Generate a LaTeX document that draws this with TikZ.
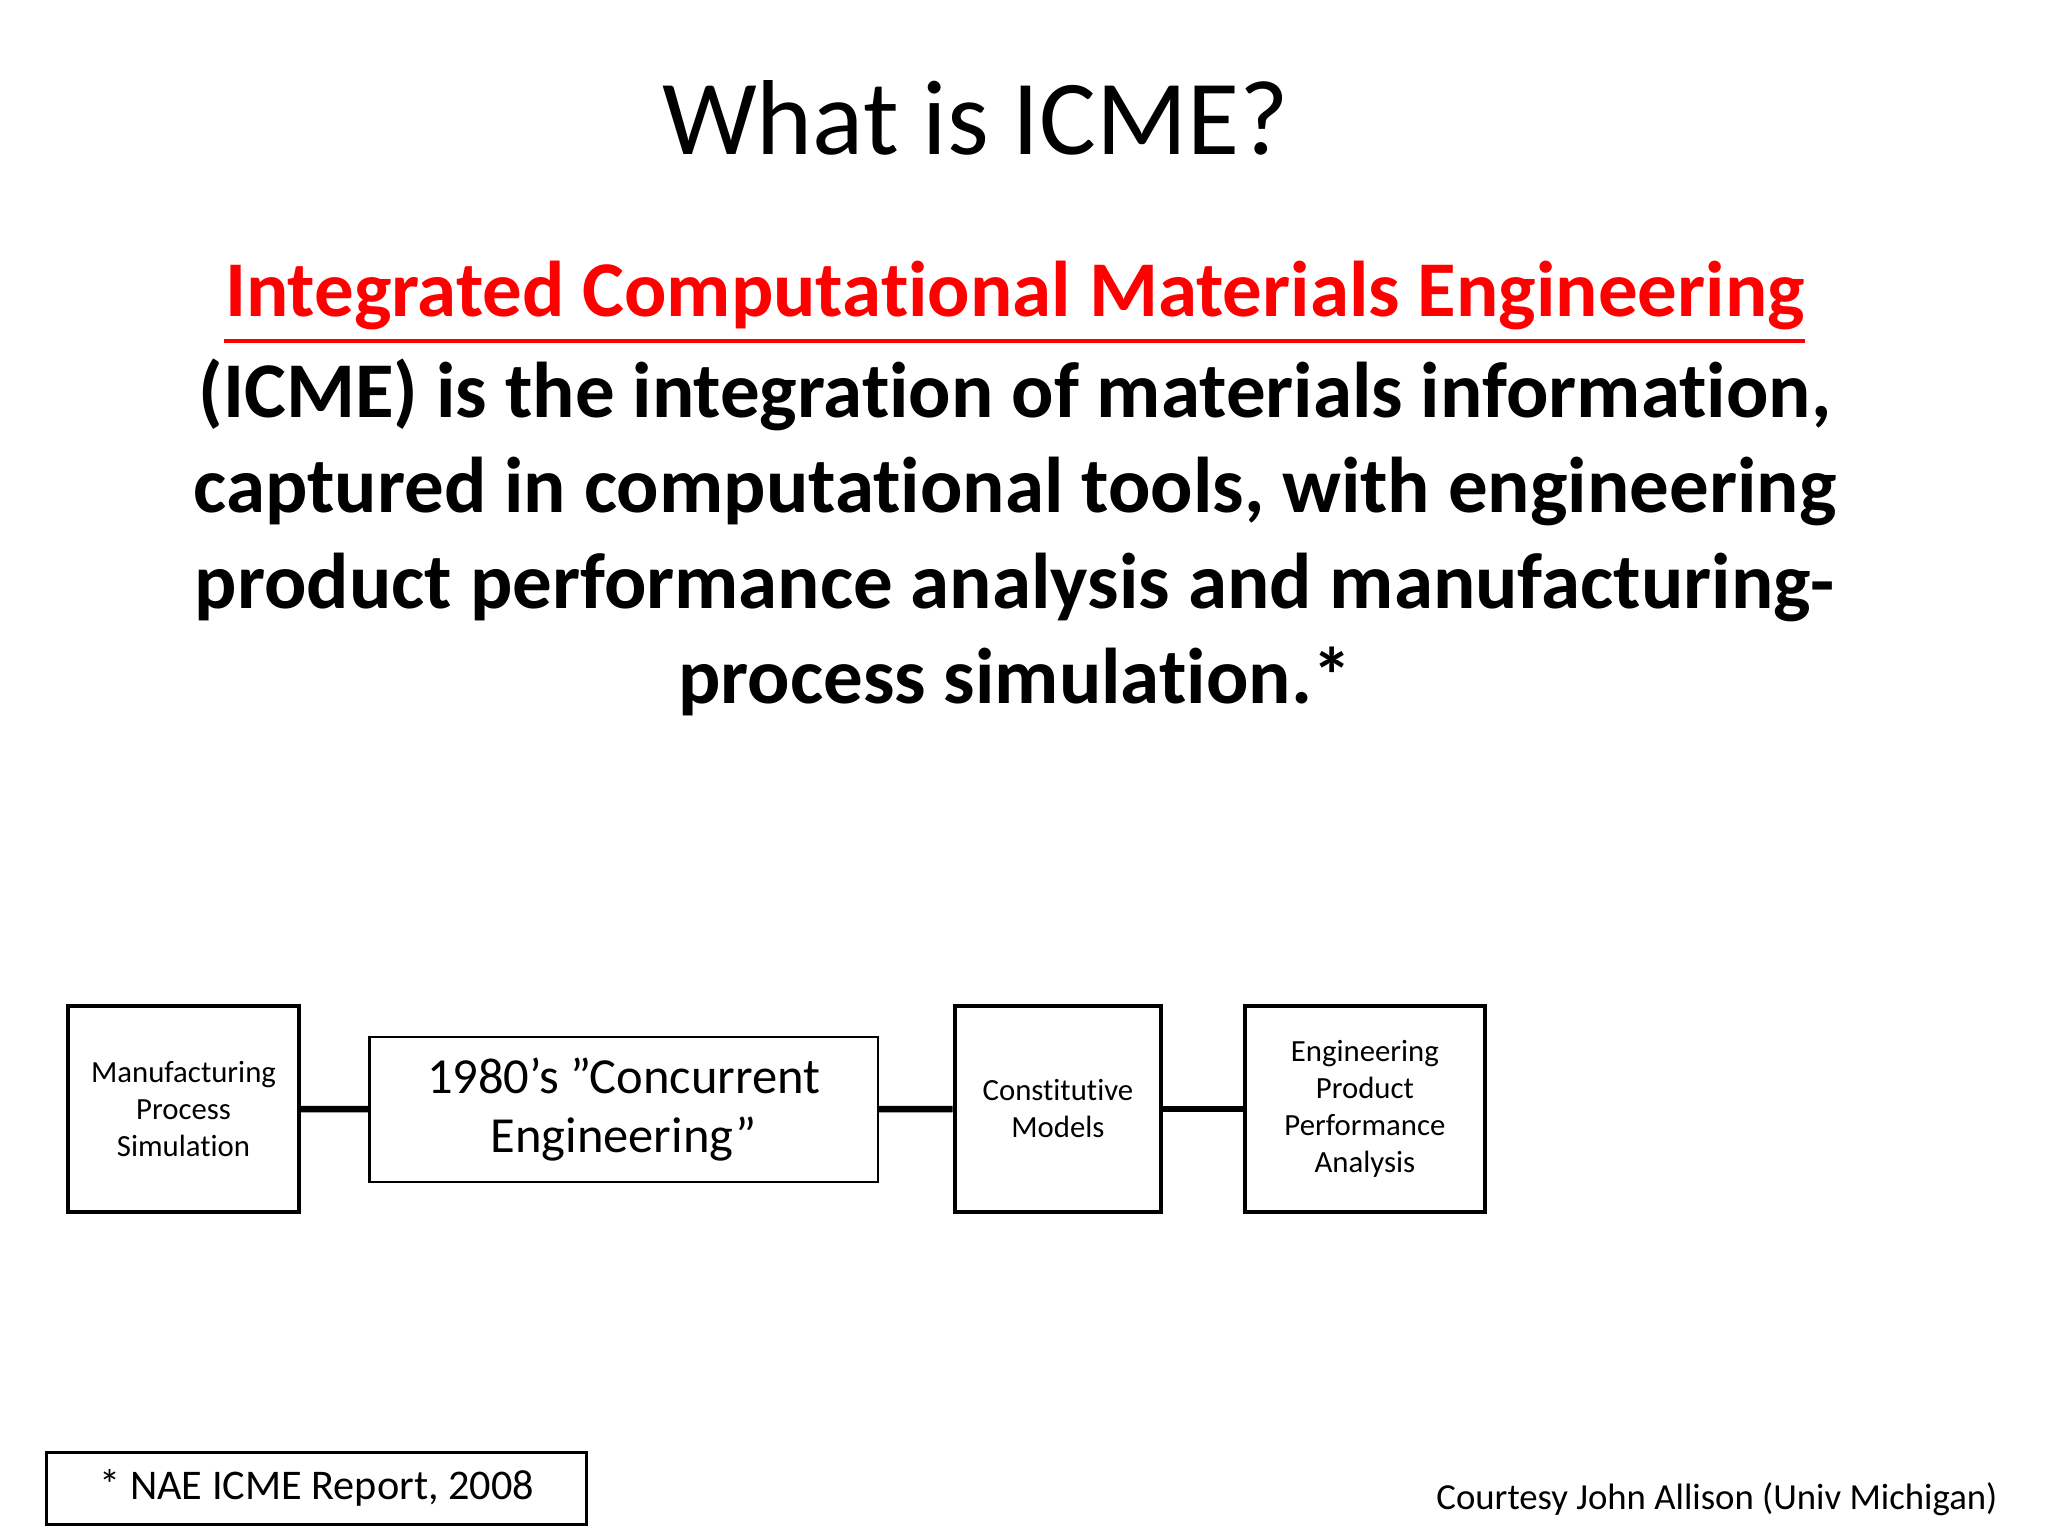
\documentclass[tikz,border=0pt]{standalone}
\usepackage{fontspec}
\setmainfont{Carlito}[Ligatures=NoCommon]
\definecolor{icmered}{RGB}{255,0,0}
\begin{document}
\begin{tikzpicture}[x=0.01cm,y=-0.01cm,
  thickbox/.style={draw,line width=0.9pt,align=center,inner sep=0pt,font=\fontsize{6.7pt}{8pt}\selectfont},
  conn/.style={line width=1.4pt}]
\useasboundingbox (0,0) rectangle (1568,1176);
\node[font=\fontsize{23.2pt}{28pt}\selectfont] (title) at (747,90) {What is ICME?};
\node[font=\fontsize{17.2pt}{20.8pt}\selectfont\bfseries,text=icmered,inner sep=0pt] (head) at (777,226) {Integrated Computational Materials Engineering};
\draw[icmered,line width=0.8pt] ([yshift=-5.4pt]head.base west) -- ([yshift=-5.4pt]head.base east);
\node[font=\fontsize{17.2pt}{20.8pt}\selectfont\bfseries,align=center,anchor=north] (body) at (777,262)
 {(ICME) is the integration of materials information,\\
 captured in computational tools, with engineering\\
 product performance analysis and manufacturing-\\
 process simulation.*};
\node[thickbox,minimum width=1.77cm,minimum height=1.58cm] (mps) at (140.5,849) {Manufacturing\\Process\\Simulation};
\node[draw,line width=0.5pt,minimum width=3.89cm,minimum height=1.11cm,inner sep=0pt,align=center,font=\fontsize{11pt}{12.8pt}\selectfont] (ce) at (477.5,849.5) {1980’s ”Concurrent\\Engineering”};
\node[thickbox,minimum width=1.58cm,minimum height=1.58cm] (cm) at (810,849) {Constitutive\\Models};
\node[thickbox,minimum width=1.84cm,minimum height=1.58cm] (epp) at (1045,849) {Engineering\\Product\\Performance\\Analysis};
\draw[conn] (mps) -- (ce);
\draw[conn] (ce) -- (cm);
\draw[conn] (cm) -- (epp);
\node[draw,line width=0.6pt,minimum width=4.13cm,minimum height=0.55cm,inner sep=0pt,font=\fontsize{9.2pt}{11pt}\selectfont] (ref) at (242.5,1139.5) {* NAE ICME Report, 2008};
\node[anchor=east,inner sep=0pt,font=\fontsize{8pt}{9.6pt}\selectfont] (court) at (1530,1148) {Courtesy John Allison (Univ Michigan)};
\end{tikzpicture}
\end{document}
